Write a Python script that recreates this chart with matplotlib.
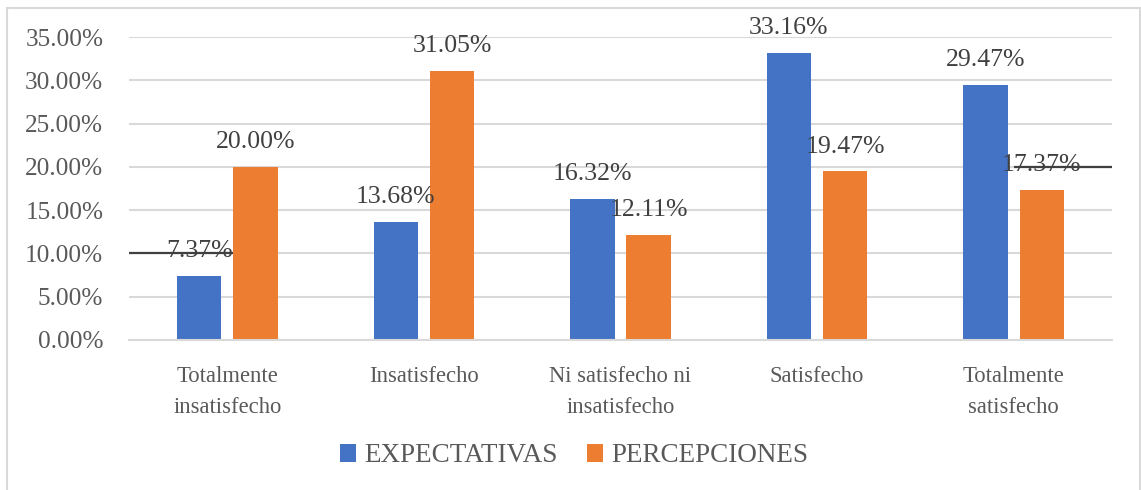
"""
Grouped bar chart: expectativas vs percepciones por nivel de satisfaccion
"""
import numpy as np
import matplotlib.pyplot as plt
from matplotlib.patches import Rectangle
from matplotlib.ticker import MultipleLocator, PercentFormatter

categories = ['Totalmente\ninsatisfecho', 'Insatisfecho', 'Ni satisfecho ni\ninsatisfecho',
              'Satisfecho', 'Totalmente\nsatisfecho']
expectativas = [7.37, 13.68, 16.32, 33.16, 29.47]
percepciones = [20.00, 31.05, 12.11, 19.47, 17.37]

blue = '#4472C4'
orange = '#ED7D31'
text_color = '#595959'
grid_color = '#D9D9D9'

plt.rcParams['font.family'] = ['Liberation Serif', 'DejaVu Serif']
plt.rcParams['font.size'] = 18

W, H = 1141, 490
fig = plt.figure(figsize=(W / 100, H / 100), dpi=100)
ax = fig.add_axes([129 / W, 1 - 340 / H, (1112 - 129) / W, (340 - 37) / H])

x = np.arange(len(categories))
width = 0.225
offset = 0.143
bars_e = ax.bar(x - offset, expectativas, width, color=blue, label='EXPECTATIVAS', zorder=2)
bars_p = ax.bar(x + offset, percepciones, width, color=orange, label='PERCEPCIONES', zorder=2)

for bars, values in ((bars_e, expectativas), (bars_p, percepciones)):
    for bar, v in zip(bars, values):
        ax.annotate(f'{v:.2f}%', (bar.get_x() + bar.get_width() / 2, v),
                    xytext=(0, 10), textcoords='offset points',
                    ha='center', va='bottom', color='#404040', fontsize=18.5, zorder=4)

ax.set_xlim(-0.5, len(categories) - 0.5)
ax.set_ylim(0, 35)
ax.yaxis.set_major_locator(MultipleLocator(5))
ax.yaxis.set_major_formatter(PercentFormatter(decimals=2))
ax.grid(axis='y', color=grid_color, linewidth=1.5, zorder=0)
ax.set_axisbelow(True)

# dark segments over two gridlines
ax.hlines(10, -0.5, 0.03, color='#404040', linewidth=1.6, zorder=5)
ax.hlines(20, 4.0, 4.5, color='#404040', linewidth=1.6, zorder=5)

ax.set_xticks(x)
ax.set_xticklabels(categories, linespacing=1.6, fontsize=16.3)
ax.tick_params(axis='both', length=0, colors=text_color)
ax.tick_params(axis='y', labelsize=18.2, pad=18.5)
ax.tick_params(axis='x', pad=19)
for side in ('top', 'right', 'left'):
    ax.spines[side].set_visible(False)
ax.spines['bottom'].set_color(grid_color)
ax.spines['bottom'].set_linewidth(1.5)

fig.legend(loc='center', bbox_to_anchor=(574 / W, 1 - 456 / H), ncol=2, frameon=False,
           handlelength=0.6, handleheight=0.6, handletextpad=0.3, columnspacing=1.1,
           labelcolor=text_color, fontsize=19.5)

fig.patches.append(Rectangle((7 / W, -0.01), (1140 - 7) / W, 1 - 8 / H + 0.01,
                             transform=fig.transFigure, fill=False,
                             edgecolor=grid_color, linewidth=1.5))

plt.savefig('out.png', dpi=100)
